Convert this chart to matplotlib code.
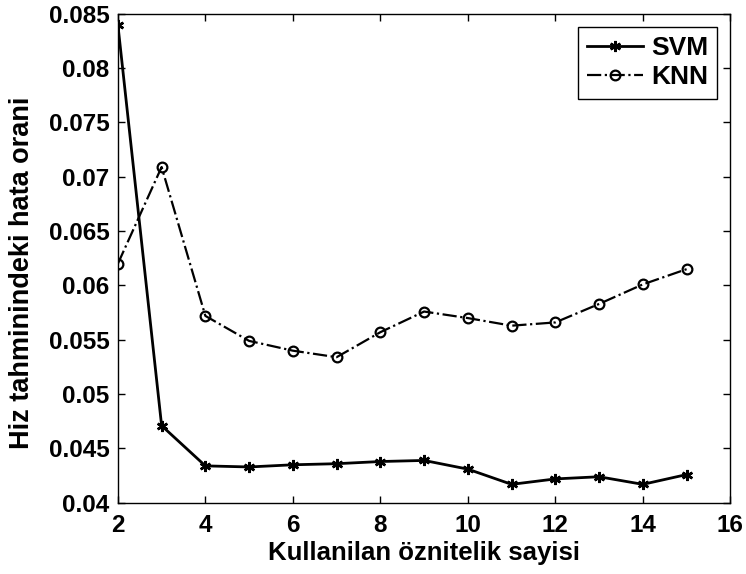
import matplotlib
matplotlib.use("Agg")
import matplotlib.pyplot as plt

# feature counts and speed estimation error rates
features = list(range(2, 16))
svm_err = [0.0840, 0.0471, 0.0434, 0.0433, 0.0435, 0.0436, 0.0438,
           0.0439, 0.0431, 0.0417, 0.0422, 0.0424, 0.0417, 0.0426]
knn_err = [0.0620, 0.0709, 0.0572, 0.0549, 0.0540, 0.0534, 0.0557,
           0.0576, 0.0570, 0.0563, 0.0566, 0.0583, 0.0601, 0.0615]

xticks = [2, 4, 6, 8, 10, 12, 14, 16]
yticks = [0.04, 0.045, 0.05, 0.055, 0.06, 0.065, 0.07, 0.075, 0.08, 0.085]

plt.rcParams["font.family"] = ["Liberation Sans", "DejaVu Sans"]
plt.rcParams["font.weight"] = "bold"

fig = plt.figure(figsize=(7.46, 5.74), dpi=100)
ax = fig.add_axes([0.158, 0.124, 0.821, 0.852])

ax.plot(features, svm_err, "k-", marker=(6, 2, 0), markersize=8,
        markeredgewidth=1.8, linewidth=2, label="SVM")
ax.plot(features, knn_err, "k-.", marker="o", markersize=7,
        markerfacecolor="none", markeredgewidth=1.6, linewidth=1.6,
        label="KNN")

ax.set_xlim(2, 16)
ax.set_ylim(0.04, 0.085)
ax.set_xticks(xticks)
ax.set_yticks(yticks)
ax.set_yticklabels([f"{v:g}" for v in yticks])
ax.tick_params(direction="in", top=True, right=True, length=5,
               labelsize=17.5, width=1, pad=6)
ax.tick_params(axis="x", pad=8)
for lbl in ax.get_xticklabels() + ax.get_yticklabels():
    lbl.set_fontweight("bold")
for s in ax.spines.values():
    s.set_linewidth(1)

ax.set_xlabel("Kullanilan öznitelik sayisi", fontsize=18.5, fontweight="bold",
              labelpad=3)
ax.set_ylabel("Hiz tahminindeki hata orani", fontsize=19.5, fontweight="bold")
ax.yaxis.set_label_coords(-0.136, 0.47)

leg = ax.legend(loc="upper right", fancybox=False, edgecolor="black",
                framealpha=1, fontsize=19, borderaxespad=0.5,
                handlelength=2.1, handletextpad=0.3, labelspacing=0.2,
                borderpad=0.35)
leg.get_frame().set_linewidth(1)
for t in leg.get_texts():
    t.set_fontweight("bold")

fig.savefig("out.png", dpi=100)
